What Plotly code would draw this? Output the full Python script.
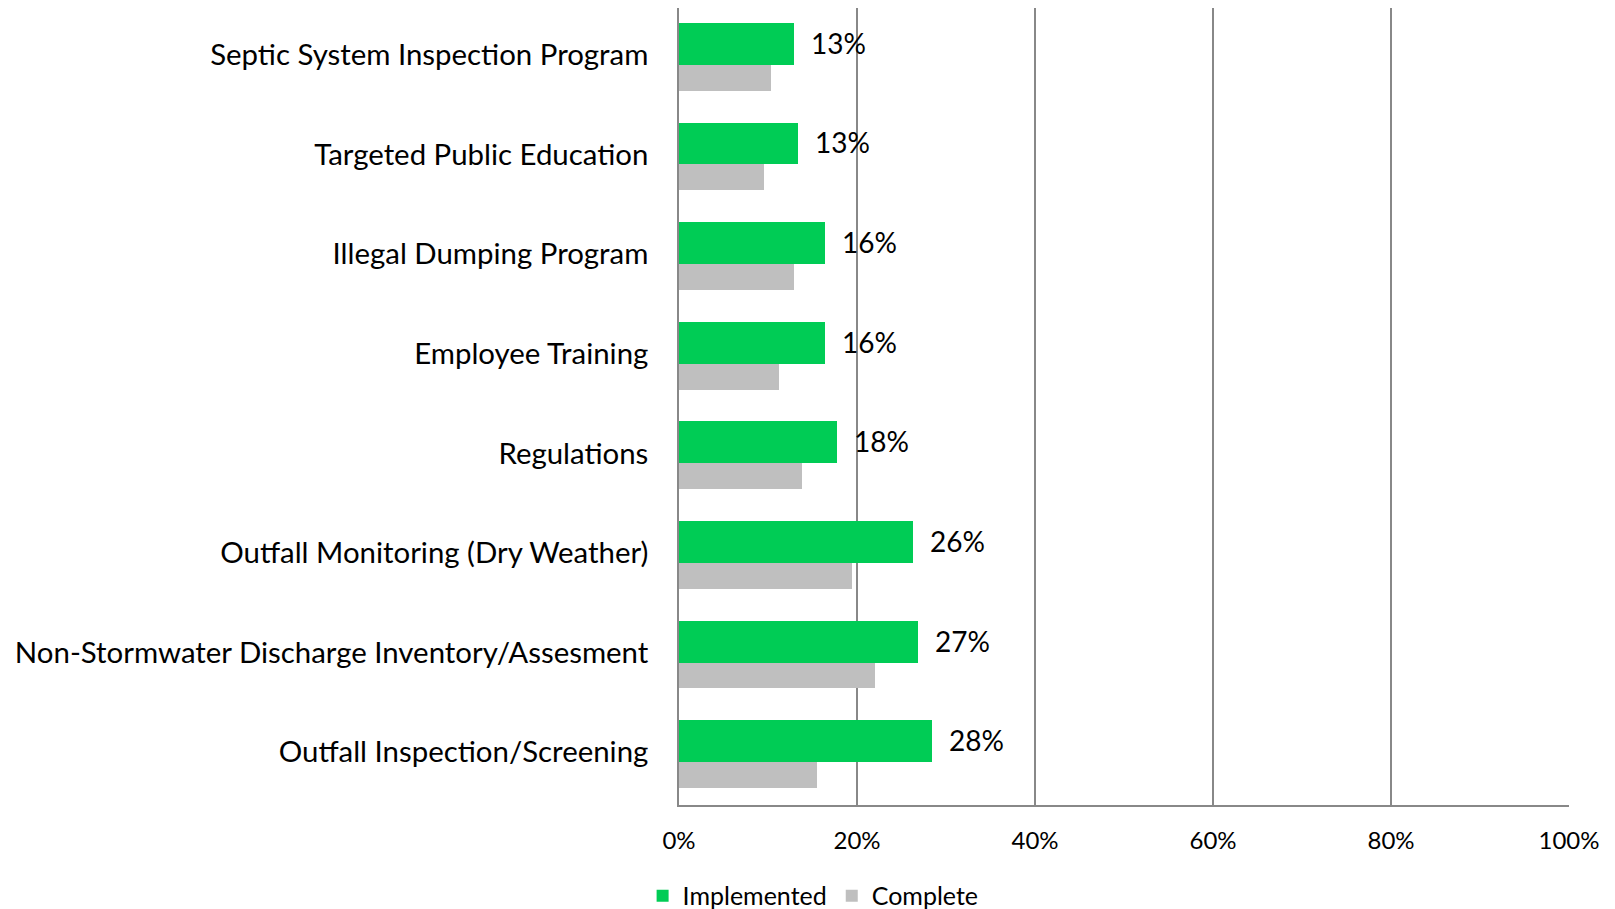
import plotly.graph_objects as go

categories = [
    "Septic System Inspection Program",
    "Targeted Public Education",
    "Illegal Dumping Program",
    "Employee Training",
    "Regulations",
    "Outfall Monitoring (Dry Weather)",
    "Non-Stormwater Discharge Inventory/Assesment",
    "Outfall Inspection/Screening",
]
implemented = [0.129, 0.134, 0.164, 0.164, 0.177, 0.263, 0.268, 0.284]
complete = [0.103, 0.095, 0.129, 0.112, 0.138, 0.194, 0.220, 0.155]
x_ticks = [0, 0.2, 0.4, 0.6, 0.8, 1.0]
x_tick_labels = ["0%", "20%", "40%", "60%", "80%", "100%"]

FONT = "Lato"
GREEN = "#00CC55"
GRAY = "#BFBFBF"
GRID = "#888888"

fig = go.Figure()
fig.add_trace(go.Bar(
    y=categories, x=implemented, orientation="h", name="Implemented",
    marker=dict(color=GREEN, line=dict(width=0)),
    offset=-0.35, width=0.42,
))
fig.add_trace(go.Bar(
    y=categories, x=complete, orientation="h", name="Complete",
    marker=dict(color=GRAY, line=dict(width=0)),
    offset=0.07, width=0.26,
))

for cat, v in zip(categories, implemented):
    fig.add_annotation(
        x=v, y=cat, xref="x", yref="y", text=f"{round(v*100)}%",
        showarrow=False, xanchor="left", yanchor="middle",
        xshift=15, yshift=15,
        font=dict(family=FONT, size=28, color="#000000"),
    )

fig.update_layout(
    width=1607, height=901,
    margin=dict(l=671, r=46, t=0, b=104, autoexpand=False),
    paper_bgcolor="white", plot_bgcolor="white",
    barmode="overlay",
    bargap=0,
    font=dict(family=FONT, color="#000000"),
    showlegend=True,
    legend=dict(
        orientation="h", xref="container", yref="container",
        x=0.501, y=0.0145, xanchor="center", yanchor="middle",
        font=dict(family=FONT, size=25, color="#000000"),
        traceorder="normal",
    ),
)
fig.update_xaxes(
    range=[0, 1.0], tickvals=x_ticks, ticktext=x_tick_labels,
    showgrid=True, gridcolor=GRID, gridwidth=1.5,
    zeroline=False, showline=True, linecolor=GRID, linewidth=1.5,
    ticks="", ticklabelstandoff=13, automargin=False,
    tickfont=dict(family=FONT, size=24, color="#000000"),
)
fig.update_yaxes(
    autorange=False, range=[7.5, -0.5],
    categoryorder="array", categoryarray=categories,
    showgrid=False, zeroline=False, showline=True, linecolor=GRID, linewidth=1.5,
    ticks="", ticklabelstandoff=23, ticklabelshift=3, automargin=False,
    tickfont=dict(family=FONT, size=29.4, color="#000000"),
)

fig.write_html("out.html")
